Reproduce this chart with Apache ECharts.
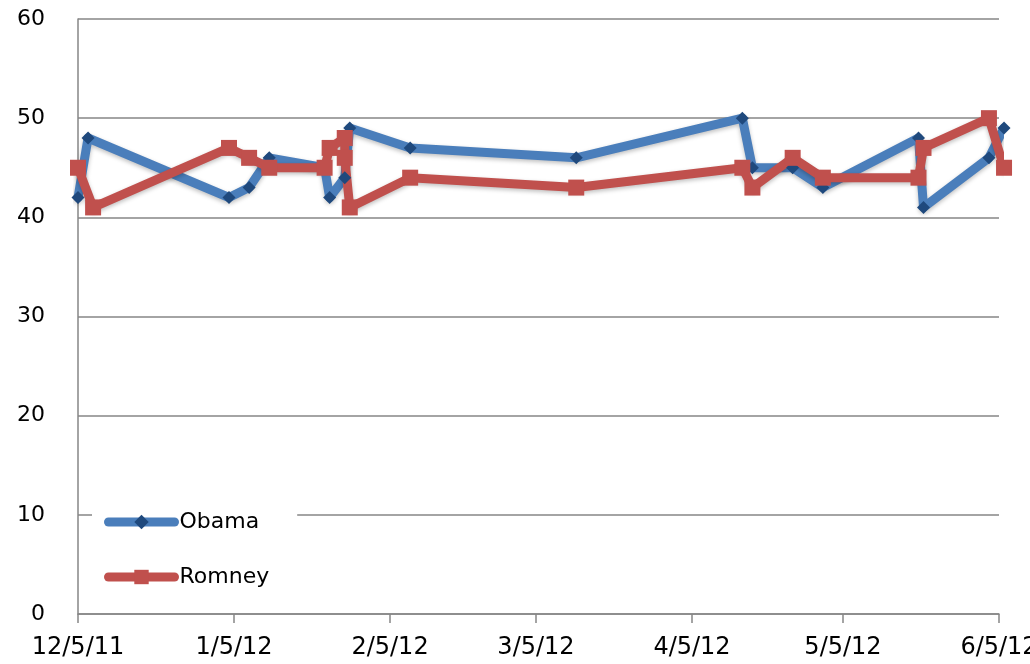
<!DOCTYPE html>
<html>
<head>
<meta charset="utf-8">
<title>Obama vs Romney</title>
<script src="https://cdn.jsdelivr.net/npm/echarts@6/dist/echarts.min.js"></script>
<style>
  html, body { margin: 0; padding: 0; background: #fff; }
  #chart { width: 1030px; height: 664px; }
</style>
</head>
<body>
<div id="chart"></div>
<script>
// poll dates and values
const obamaDates = ['2011-12-05', '2011-12-07', '2012-01-04', '2012-01-08', '2012-01-12', '2012-01-23',
  '2012-01-24', '2012-01-27', '2012-01-28', '2012-02-09', '2012-03-13', '2012-04-15', '2012-04-17',
  '2012-04-25', '2012-05-01', '2012-05-20', '2012-05-21', '2012-06-03', '2012-06-06'];
const obamaValues = [42, 48, 42, 43, 46, 45, 42, 44, 49, 47, 46, 50, 45, 45, 43, 48, 41, 46, 49];

const romneyDates = ['2011-12-05', '2011-12-08', '2012-01-04', '2012-01-08', '2012-01-12', '2012-01-23',
  '2012-01-24', '2012-01-27', '2012-01-27', '2012-01-28', '2012-02-09', '2012-03-13', '2012-04-15',
  '2012-04-17', '2012-04-25', '2012-05-01', '2012-05-20', '2012-05-21', '2012-06-03', '2012-06-06'];
const romneyValues = [45, 41, 47, 46, 45, 45, 47, 48, 46, 41, 44, 43, 45, 43, 46, 44, 44, 47, 50, 45];

const tickDates = ['2011-12-05', '2012-01-05', '2012-02-05', '2012-03-05', '2012-04-05', '2012-05-05', '2012-06-05'];

function toTime(s) {
  const p = s.split('-');
  return Date.UTC(+p[0], +p[1] - 1, +p[2]);
}

function pairs(dates, values) {
  return dates.map((d, i) => [toTime(d), values[i]]);
}

const tickTimes = tickDates.map(toTime);

const chart = echarts.init(document.getElementById('chart'));

const option = {
  animation: false,
  grid: {
    left: 78,
    right: 31,
    top: 19,
    bottom: 50,
    outerBoundsMode: 'none'
  },
  legend: {
    orient: 'vertical',
    left: 92,
    top: 503,
    backgroundColor: '#fff',
    padding: [8, 28, 8, 12],
    itemWidth: 66,
    itemHeight: 18,
    itemGap: 33,
    lineStyle: { width: 9, cap: 'round' },
    textStyle: {
      fontFamily: 'DejaVu Sans',
      fontSize: 22,
      lineHeight: 22,
      color: '#000'
    },
    data: ['Obama', 'Romney']
  },
  xAxis: {
    type: 'value',
    min: tickTimes[0],
    max: tickTimes[tickTimes.length - 1],
    splitLine: { show: false },
    axisLine: { lineStyle: { color: '#868686', width: 1.5 } },
    axisTick: {
      show: true,
      length: 9,
      customValues: tickTimes,
      lineStyle: { color: '#868686', width: 1.5 }
    },
    axisLabel: {
      customValues: tickTimes,
      margin: 22,
      fontFamily: 'DejaVu Sans',
      fontSize: 24,
      color: '#000',
      showMinLabel: true,
      showMaxLabel: true,
      formatter: function (val) {
        const d = new Date(val);
        const yy = String(d.getUTCFullYear() % 100);
        return (d.getUTCMonth() + 1) + '/' + d.getUTCDate() + '/' + yy;
      }
    }
  },
  yAxis: {
    type: 'value',
    min: 0,
    max: 60,
    interval: 10,
    axisLine: { show: true, lineStyle: { color: '#868686', width: 1.5 } },
    axisTick: { show: false },
    splitLine: { lineStyle: { color: '#868686', width: 1.5 } },
    axisLabel: {
      margin: 33,
      fontFamily: 'DejaVu Sans',
      fontSize: 22,
      color: '#000'
    }
  },
  series: [
    {
      name: 'Obama',
      type: 'line',
      clip: false,
      data: pairs(obamaDates, obamaValues),
      symbol: 'diamond',
      symbolSize: 13,
      showAllSymbol: true,
      itemStyle: { color: '#1F497D' },
      lineStyle: {
        color: '#4A7EBB',
        width: 9,
        cap: 'round',
        join: 'round',
        shadowColor: 'rgba(0,0,0,0.25)',
        shadowBlur: 4,
        shadowOffsetY: 2
      }
    },
    {
      name: 'Romney',
      type: 'line',
      clip: false,
      data: pairs(romneyDates, romneyValues),
      symbol: 'rect',
      symbolSize: 16,
      showAllSymbol: true,
      itemStyle: { color: '#C0504D' },
      lineStyle: {
        color: '#C0504D',
        width: 9,
        cap: 'round',
        join: 'round',
        shadowColor: 'rgba(0,0,0,0.25)',
        shadowBlur: 4,
        shadowOffsetY: 2
      }
    }
  ]
};

chart.setOption(option);
</script>
</body>
</html>
